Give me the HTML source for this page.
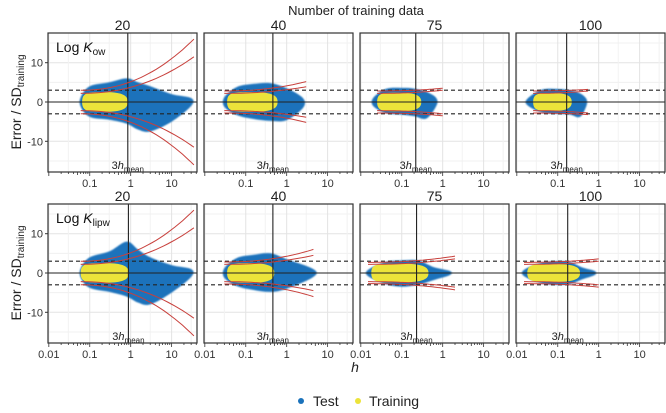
<!DOCTYPE html>
<html><head><meta charset="utf-8">
<style>
body{margin:0;background:#fff;}
svg{display:block;font-family:"Liberation Sans",sans-serif;}
</style></head>
<body>
<svg id="chart" width="666" height="413" viewBox="0 0 666 413" xmlns="http://www.w3.org/2000/svg">
<defs><filter id="soft" x="-10%" y="-20%" width="120%" height="140%"><feGaussianBlur stdDeviation="0.8"/></filter></defs>
<text x="356" y="15" font-size="13" text-anchor="middle" fill="#222">Number of training data</text>
<g id="panels"></g>
<text x="355" y="372" font-size="14" font-style="italic" text-anchor="middle" fill="#222">h</text>
<g>
<circle cx="301" cy="401" r="3" fill="#1a72bb"/>
<text x="313" y="406" font-size="14" fill="#222">Test</text>
<circle cx="358" cy="401" r="3" fill="#ece33a"/>
<text x="369" y="406" font-size="14" fill="#222">Training</text>
</g>
</svg>
<script>
// ---- data ----
const sizes = [20, 40, 75, 100];
const properties = ["ow", "lipw"];
const hMean3 = [[0.85, 0.46, 0.22, 0.165], [0.88, 0.46, 0.23, 0.175]];
const testH = [
 [[0.06,0.1,0.3,0.8,1.5,3,10,30],[0.03,0.06,0.15,0.4,1,2.5],[0.02,0.04,0.1,0.2,0.4,0.7],[0.018,0.04,0.1,0.2,0.35,0.5]],
 [[0.06,0.1,0.3,0.8,1.5,3,10,30],[0.03,0.06,0.15,0.4,1,4.5],[0.015,0.04,0.1,0.25,0.6,1.5],[0.015,0.04,0.1,0.2,0.4,0.8]]];
const testUp = [
 [[1.2,4,5,6,5,4,2,1],[1.2,3.8,4.6,4.8,3.5,1],[1,3.3,3.6,3.4,2.6,1],[0.8,3.1,3.3,3,2.2,0.8]],
 [[1.2,4,5.5,8,6,4,2,1],[1.2,3.8,4.6,5,3.5,1],[0.8,2.8,3.2,3.2,1.5,0.5],[0.8,2.6,3,2.8,1.4,0.5]]];
const testLo = [
 [[-1.2,-3.8,-4.5,-5.5,-7,-7.5,-5,-1],[-1.2,-3.3,-4.3,-4.8,-4.6,-1.5],[-1,-2.8,-3.2,-3.6,-4.2,-1],[-0.8,-2.6,-3,-3.2,-3.8,-1]],
 [[-1.2,-3.8,-4.8,-6,-7.5,-8,-5,-1],[-1.2,-3.3,-4.3,-4.8,-4,-1],[-0.8,-2.8,-3.5,-3,-1.8,-0.5],[-0.8,-2.6,-3,-2.8,-1.6,-0.5]]];
const trainH = [[[0.065,0.85],[0.035,0.6],[0.025,0.3],[0.025,0.22]],[[0.06,0.9],[0.035,0.5],[0.018,0.45],[0.018,0.35]]];
const trainHalf = [[2.5,2.5,2.4,2.3],[2.5,2.5,2.4,2.3]];
const redH = [[[0.06,35],[0.03,3],[0.025,1],[0.025,0.55]],[[0.06,35],[0.03,4.5],[0.015,2],[0.015,1]]];
const redOuterEnd = [[16,5.2,3.5,3.2],[16,6,4.3,3.6]];
const redInnerEnd = [[11.5,3.9,3,2.8],[11.5,4.5,3.6,3]];
const redStart = [[3.0,2.8,2.8,2.8],[3.0,2.8,2.7,2.7]];
const redInnerStart = [[2.2,2.2,2.2,2.2],[2.2,2.2,2.2,2.2]];
const xTickVals = [0.01, 0.1, 1, 10];
const yTickVals = [-10, 0, 10];

// ---- layout ----
const panelX = [48, 204, 360, 516];
const panelW = 149;
const rowTop = [33, 204];
const panelH = 139;
const zeroY = [102, 273];
const pxPerUnit = 3.93;
const lmin = -2.02, lmax = 1.62;
const NS = "http://www.w3.org/2000/svg";
const root = document.getElementById("panels");

function el(tag, attrs, parent) {
  const e = document.createElementNS(NS, tag);
  for (const k in attrs) e.setAttribute(k, attrs[k]);
  parent.appendChild(e);
  return e;
}
function xs(c, h) { return panelX[c] + (Math.log10(h) - lmin) / (lmax - lmin) * panelW; }
function ys(r, v) { return zeroY[r] - v * pxPerUnit; }
function clampY(r, y) { return Math.max(rowTop[r] + 1, Math.min(rowTop[r] + panelH - 1, y)); }
function smoothPath(p) {
  // closed Catmull-Rom
  const n = p.length; let d = "M" + p[0][0].toFixed(1) + "," + p[0][1].toFixed(1);
  for (let i = 0; i < n; i++) {
    const p0 = p[(i - 1 + n) % n], p1 = p[i], p2 = p[(i + 1) % n], p3 = p[(i + 2) % n];
    const c1x = p1[0] + (p2[0] - p0[0]) / 6, c1y = p1[1] + (p2[1] - p0[1]) / 6;
    const c2x = p2[0] - (p3[0] - p1[0]) / 6, c2y = p2[1] - (p3[1] - p1[1]) / 6;
    d += `C${c1x.toFixed(1)},${c1y.toFixed(1)} ${c2x.toFixed(1)},${c2y.toFixed(1)} ${p2[0].toFixed(1)},${p2[1].toFixed(1)}`;
  }
  return d + "Z";
}

for (let r = 0; r < 2; r++) {
  for (let c = 0; c < 4; c++) {
    const g = el("g", {}, root);
    
    
    const x0 = panelX[c], y0 = rowTop[r], x1 = x0 + panelW, y1 = y0 + panelH;
    const clipId = "clip" + r + c;
    const cp = el("clipPath", {id: clipId}, g);
    el("rect", {x: x0, y: y0, width: panelW, height: panelH}, cp);
    const inner = el("g", {"clip-path": "url(#" + clipId + ")"}, g);
    for (let v = -15; v <= 15; v += 5) {
      const gl = el("line", {x1: x0, x2: x1, y1: ys(r, v), y2: ys(r, v), stroke: v % 10 === 0 ? "#e3e3e3" : "#f0f0f0", "stroke-width": 1}, inner);
      
      
    }
    for (let d = -2; d <= 1; d++) {
      const gl = el("line", {x1: xs(c, Math.pow(10, d)), x2: xs(c, Math.pow(10, d)), y1: y0, y2: y1, stroke: "#e3e3e3"}, inner);
      
      
      const gm = el("line", {x1: xs(c, 3 * Math.pow(10, d)), x2: xs(c, 3 * Math.pow(10, d)), y1: y0, y2: y1, stroke: "#f2f2f2"}, inner);
      
      
    }
    const th = testH[r][c], tu = testUp[r][c], tl = testLo[r][c];
    let pts = [];
    for (let i = 0; i < th.length; i++) pts.push([xs(c, th[i]), clampY(r, ys(r, tu[i]))]);
    for (let i = th.length - 1; i >= 0; i--) pts.push([xs(c, th[i]), clampY(r, ys(r, tl[i]))]);
    const tc = el("path", {d: smoothPath(pts), fill: "#1a72bb", filter: "url(#soft)"}, inner);
    
    
    const a = xs(c, trainH[r][c][0]), b = xs(c, trainH[r][c][1]);
    const hh = trainHalf[r][c] * pxPerUnit;
    const tr = el("path", {d: `M${a},${zeroY[r]} C${a},${zeroY[r]-hh} ${a+6},${zeroY[r]-hh} ${(a+b)/2},${zeroY[r]-hh} C${b-4},${zeroY[r]-hh} ${b},${zeroY[r]-hh*0.6} ${b},${zeroY[r]} C${b},${zeroY[r]+hh*0.6} ${b-4},${zeroY[r]+hh} ${(a+b)/2},${zeroY[r]+hh} C${a+6},${zeroY[r]+hh} ${a},${zeroY[r]+hh} ${a},${zeroY[r]} Z`, fill: "#ece33a"}, inner);
    
    
    for (const v of [3, -3]) {
      const dl = el("line", {x1: x0, x2: x1, y1: ys(r, v), y2: ys(r, v), stroke: "#222", "stroke-width": 1.2, "stroke-dasharray": "4,3"}, inner);
      
      
    }
    const zl = el("line", {x1: x0, x2: x1, y1: zeroY[r], y2: zeroY[r], stroke: "#222", "stroke-width": 1.1}, inner);
    
    
    const hx = xs(c, hMean3[r][c]);
    const vl = el("line", {x1: hx, x2: hx, y1: y0, y2: y1, stroke: "#222", "stroke-width": 1.1}, inner);
    
    
    const rh = redH[r][c];
    const pairs = [[redStart[r][c], redOuterEnd[r][c]], [redInnerStart[r][c], redInnerEnd[r][c]]];
    for (const [s, e] of pairs) {
      for (const sign of [1, -1]) {
        let d = "";
        const n = 30;
        for (let i = 0; i <= n; i++) {
          const t = i / n;
          const lh = Math.log10(rh[0]) + t * (Math.log10(rh[1]) - Math.log10(rh[0]));
          const v = s + (e - s) * Math.pow(t, 2.2);
          d += (i ? "L" : "M") + xs(c, Math.pow(10, lh)).toFixed(1) + "," + ys(r, sign * v).toFixed(1);
        }
        const rc = el("path", {d: d, fill: "none", stroke: "#c8403c", "stroke-width": 1}, inner);
        
        
      }
    }
    const lt = el("text", {x: hx, y: y1 - 3, "font-size": 11, "text-anchor": "middle", fill: "#222"}, g);
    
    
    lt.innerHTML = '3<tspan font-style="italic">h</tspan><tspan font-size="8" dy="3">mean</tspan>';
    const bd = el("rect", {x: x0, y: y0, width: panelW, height: panelH, fill: "none", stroke: "#333", "stroke-width": 1.2}, g);
    
    
    const sl = el("text", {x: x0 + panelW / 2, y: y0 - 3, "font-size": 14, "text-anchor": "middle", fill: "#222"}, g);
    
    
    sl.textContent = sizes[c];
    for (let d = -2; d <= 1; d++) {
      for (let m = 1; m <= 9; m++) {
        const h = m * Math.pow(10, d);
        const x = xs(c, h);
        if (x > x1) continue;
        const tk = el("line", {x1: x, x2: x, y1: y1, y2: y1 + (m === 1 ? 4 : m === 5 ? 3 : 2), stroke: "#333", "stroke-width": 0.8}, g);
        
        
      }
    }
    xTickVals.forEach(v => {
      if (r === 0 && v === 0.01) return;
      const t = el("text", {x: xs(c, v), y: y1 + 15, "font-size": 11, "text-anchor": "middle", fill: "#333"}, g);
      
      
      t.textContent = String(v);
    });
    if (c === 0) {
      yTickVals.forEach(v => {
        const t = el("text", {x: x0 - 5, y: ys(r, v) + 4, "font-size": 11, "text-anchor": "end", fill: "#333"}, g);
        
        
        t.textContent = String(v);
        const tk = el("line", {x1: x0 - 3, x2: x0, y1: ys(r, v), y2: ys(r, v), stroke: "#333"}, g);
        
        
      });
      const pl = el("text", {x: x0 + 8, y: y0 + 19, "font-size": 14, fill: "#111"}, g);
      
      
      pl.innerHTML = 'Log <tspan font-style="italic">K</tspan><tspan font-size="10" dy="3">' + properties[r] + '</tspan>';
      const yt = el("text", {x: 0, y: 0, "font-size": 14, "text-anchor": "middle", fill: "#222", transform: `translate(21,${zeroY[r]}) rotate(-90)`}, g);
      
      
      yt.innerHTML = 'Error / SD<tspan font-size="10" dy="3">training</tspan>';
    }
  }
}
</script>
</body></html>
